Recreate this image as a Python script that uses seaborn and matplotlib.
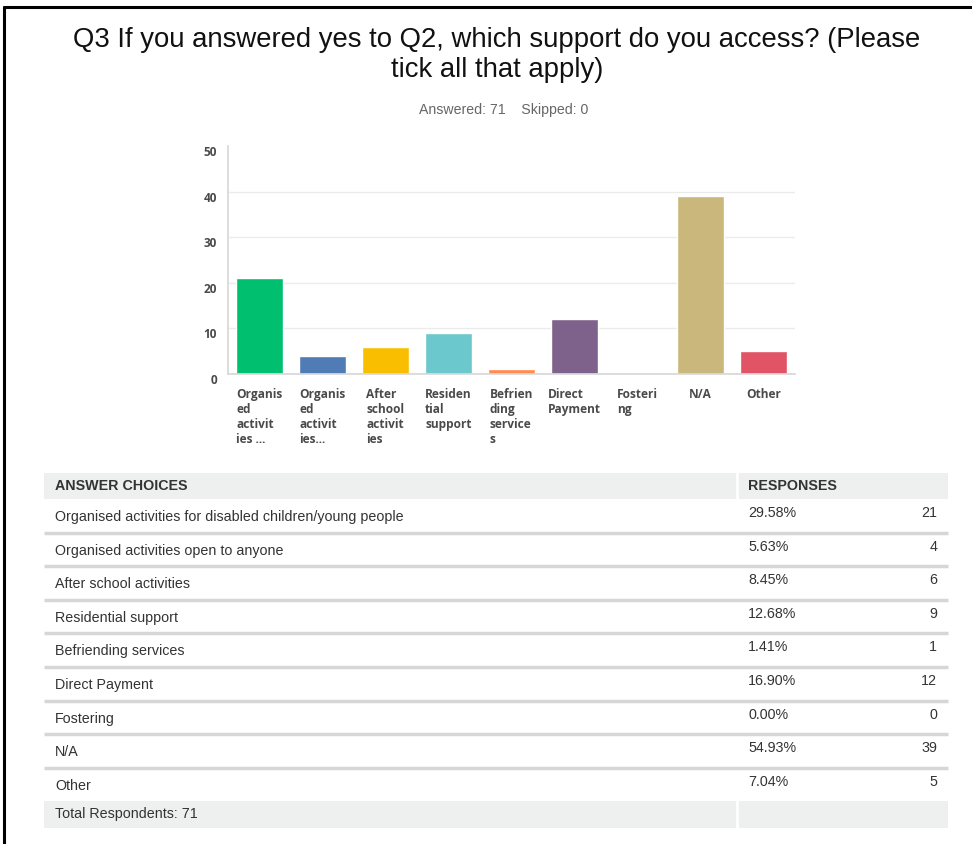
import numpy as np
import pandas as pd
import matplotlib
matplotlib.use("Agg")
import matplotlib.pyplot as plt
import seaborn as sns
from matplotlib.patches import Rectangle
from matplotlib.lines import Line2D

# data
choices = [
    "Organised activities for disabled children/young people",
    "Organised activities open to anyone",
    "After school activities",
    "Residential support",
    "Befriending services",
    "Direct Payment",
    "Fostering",
    "N/A",
    "Other",
]
tick_labels = [
    "Organis\ned\nactivit\nies ...",
    "Organis\ned\nactivit\nies...",
    "After\nschool\nactivit\nies",
    "Residen\ntial\nsupport",
    "Befrien\nding\nservice\ns",
    "Direct\nPayment",
    "Fosteri\nng",
    "N/A",
    "Other",
]
counts = [21, 4, 6, 9, 1, 12, 0, 39, 5]
percents = ["29.58%", "5.63%", "8.45%", "12.68%", "1.41%", "16.90%", "0.00%", "54.93%", "7.04%"]
bar_colors = ["#00BF6F", "#507CB6", "#F9BE00", "#6BC8CD", "#FF8B4F",
              "#7F628B", "#A2BDDF", "#C9B77C", "#E05465"]
answered = 71
skipped = 0

sns.set_theme(style="white")
plt.rcParams["font.family"] = ["Liberation Sans", "DejaVu Sans"]

W, H = 972, 844
fig = plt.figure(figsize=(W / 100, H / 100), dpi=100)


def fx(px):
    return px / W


def fy(py):
    return 1 - py / H


# bar chart
ax = fig.add_axes([fx(228), fy(374), fx(795) - fx(228), fy(146) - fy(374)])
df = pd.DataFrame({"choice": choices, "count": counts})
sns.barplot(data=df, x="choice", y="count", hue="choice", palette=bar_colors,
            saturation=1, width=0.74, legend=False, ax=ax)
ax.set_ylim(0, 50)
ax.set_yticks([0, 10, 20, 30, 40, 50])
ax.set_xlabel("")
ax.set_ylabel("")
ax.yaxis.grid(True, color="#EBEBEB", linewidth=1)
ax.set_axisbelow(True)
ax.yaxis.get_gridlines()[-1].set_visible(False)
for s in ["top", "right"]:
    ax.spines[s].set_visible(False)
ax.spines["left"].set_color("#D8D8D8")
ax.spines["bottom"].set_color("#D8D8D8")
ax.tick_params(axis="both", length=0)
ax.tick_params(axis="y", pad=8)
ax.set_xticks(range(len(choices)))
ax.set_xticklabels(tick_labels, fontfamily="Open Sans", fontweight="bold",
                   fontsize=8.6, color="#4A4A4A", multialignment="left",
                   linespacing=1.2, va="top")
ax.tick_params(axis="x", pad=10)
for lab in ax.get_yticklabels():
    lab.set_fontfamily("Open Sans")
    lab.set_fontweight("bold")
    lab.set_fontsize(8.5)
    lab.set_color("#4A4A4A")
    lab.set_va("top")

# title and summary
fig.text(fx(497), fy(55), "Q3 If you answered yes to Q2, which support do you access? (Please\ntick all that apply)",
         ha="center", va="center", fontsize=19.8, color="#111111", linespacing=1.2)
fig.text(fx(504), fy(110), f"Answered: {answered}    Skipped: {skipped}",
         ha="center", va="center", fontsize=10.2, color="#666666")

# table drawn in pixel coordinates
tab = fig.add_axes([0, 0, 1, 1], zorder=-1)
tab.set_xlim(0, W)
tab.set_ylim(H, 0)
tab.axis("off")

tfont = dict(fontfamily="Liberation Sans", fontsize=10.3, color="#333333", va="center")
left, right, split = 44, 948, 737
head_top, head_bot = 473, 499
row_h = 33.6
tab.add_patch(Rectangle((left, head_top), right - left, head_bot - head_top,
                        facecolor="#EEEFEF", edgecolor="none"))
tab.plot([split, split], [head_top, head_bot], color="white", lw=2)
tab.text(55, 486, "ANSWER CHOICES", fontweight="bold", **tfont)
tab.text(748, 486, "RESPONSES", fontweight="bold", **tfont)

for i, (c, p, n) in enumerate(zip(choices, percents, counts)):
    top = head_bot + i * row_h
    if i > 0:
        tab.plot([left, right], [top, top], color="#D6D6D6", lw=2.5,
                 solid_capstyle="butt")
    tab.text(55, top + 18, c, **tfont)
    tab.text(748, top + 14, p, **tfont)
    tab.text(937, top + 14, str(n), ha="right", **tfont)

tot_top = head_bot + len(choices) * row_h
tab.add_patch(Rectangle((left, tot_top), right - left, 27,
                        facecolor="#EEEFEF", edgecolor="none"))
tab.plot([split, split], [tot_top, tot_top + 27], color="white", lw=2)
tab.text(55, tot_top + 13, f"Total Respondents: {answered}", **tfont)

# page border
fig.add_artist(Line2D([fx(4), 1], [fy(7), fy(7)], color="black", lw=2.2))
fig.add_artist(Line2D([fx(4), fx(4)], [fy(7), 0], color="black", lw=2.2))

fig.savefig("out.png", dpi=100, facecolor="white")
